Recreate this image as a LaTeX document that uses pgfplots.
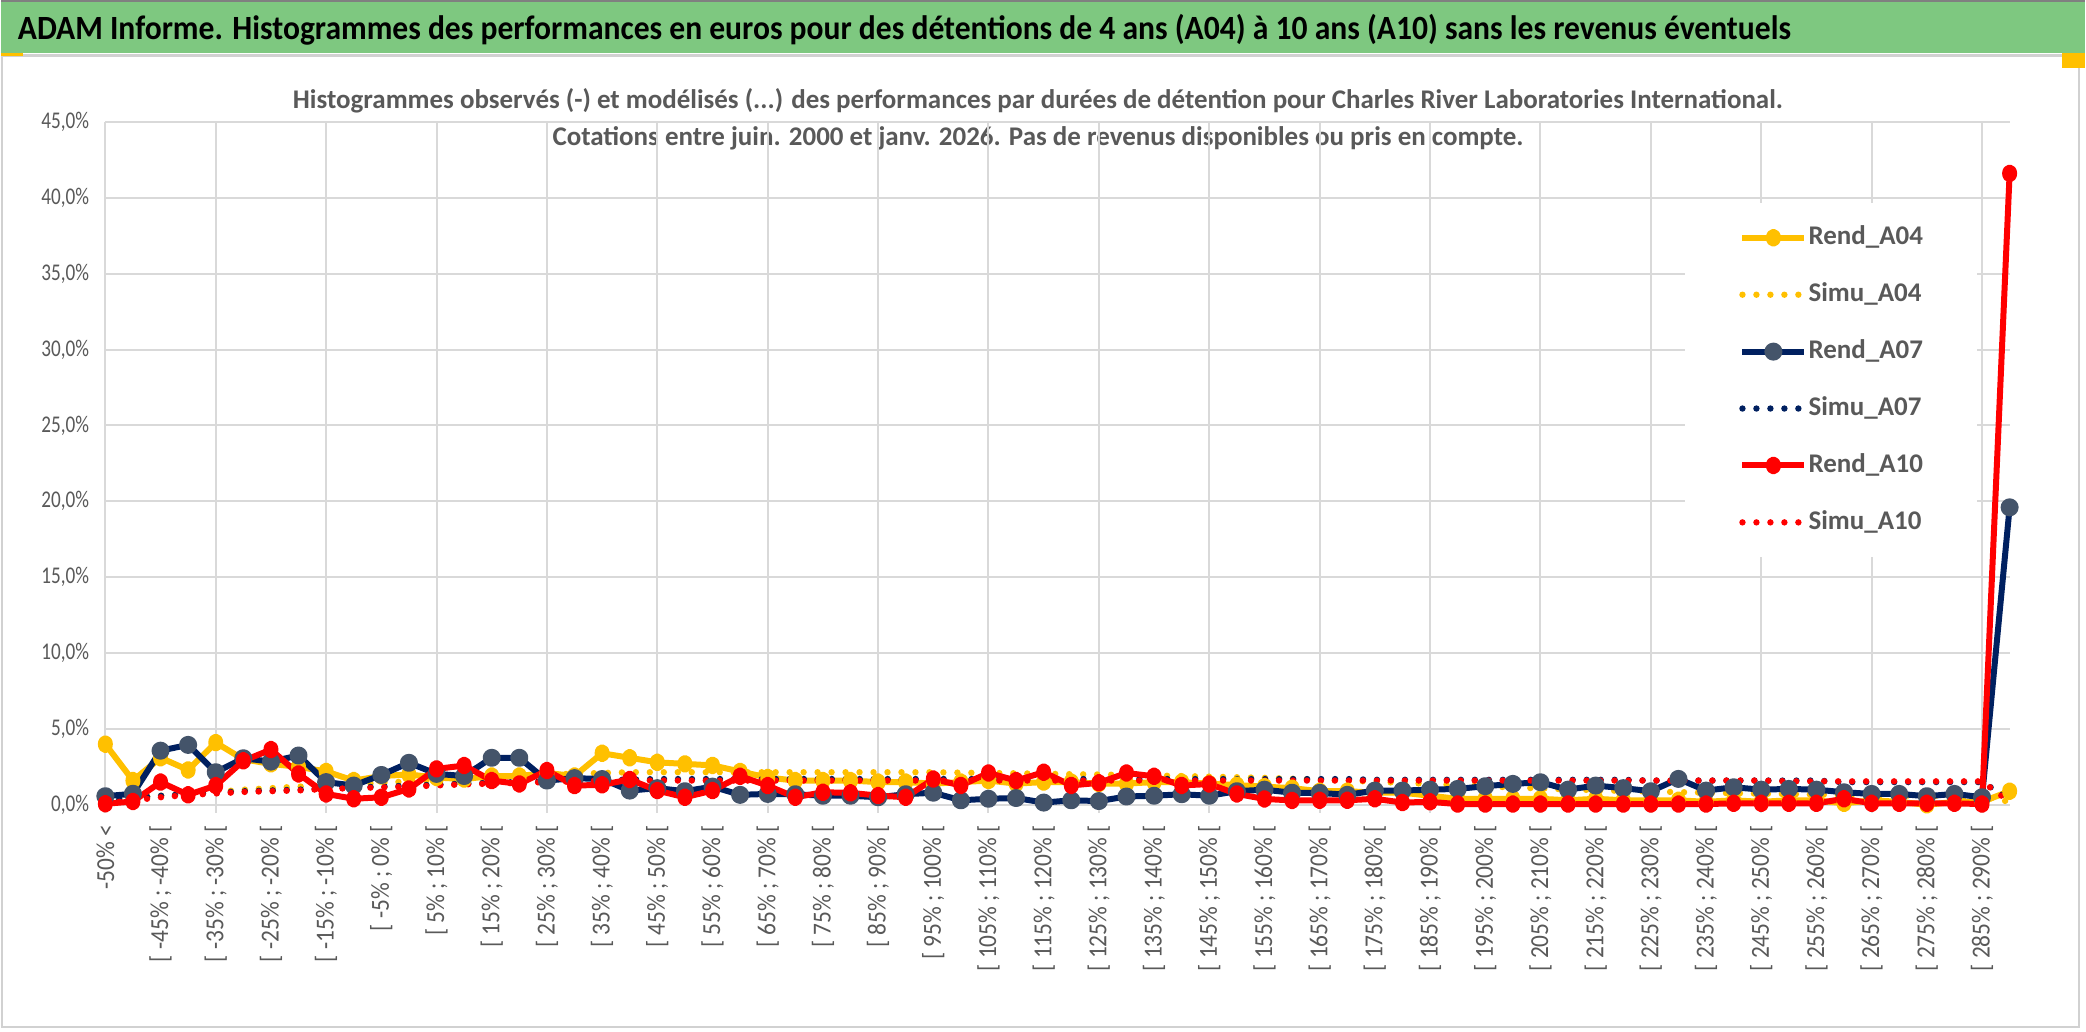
\documentclass[border=0pt]{standalone}
\usepackage{fontspec}
\setmainfont{Carlito}
\newfontfamily\sqf{Carlito}[FakeStretch=0.8]
\newfontfamily\tif{Carlito}[FakeStretch=0.93]
\newfontfamily\xlf{Carlito}[FakeStretch=0.9]
\usepackage{pgfplots}
\pgfplotsset{compat=1.18}
\usepackage{pgfplotstable}

\definecolor{gbar}{RGB}{126,200,128}
\definecolor{gold}{RGB}{255,192,0}
\definecolor{navy}{RGB}{0,32,96}
\definecolor{slate}{RGB}{68,84,106}
\definecolor{txt}{RGB}{89,89,89}
\definecolor{grd}{RGB}{217,217,217}

\pgfplotstableread{
i r04 s04 r07 s07 r10 s10
0 4.0 0.4 0.57 0.3 0.07 0.1
1 1.6 0.5 0.73 0.45 0.22 0.3
2 3.1 0.6 3.57 0.6 1.5 0.5
3 2.3 0.7 3.95 0.7 0.66 0.65
4 4.1 0.85 2.15 0.8 1.27 0.75
5 3.0 1.0 3.07 0.9 2.9 0.85
6 2.7 1.1 2.85 0.95 3.64 0.9
7 2.5 1.2 3.25 1.0 2.04 0.95
8 2.2 1.3 1.5 1.1 0.72 1.05
9 1.6 1.35 1.27 1.15 0.4 1.1
10 1.9 1.45 1.97 1.2 0.5 1.15
11 2.0 1.55 2.77 1.27 1.05 1.2
12 1.8 1.65 2.04 1.33 2.37 1.28
13 1.7 1.7 1.9 1.4 2.59 1.35
14 1.9 1.8 3.1 1.45 1.6 1.4
15 1.9 1.9 3.1 1.5 1.38 1.45
16 2.1 2.0 1.6 1.55 2.26 1.5
17 1.9 2.05 1.76 1.6 1.27 1.55
18 3.4 2.1 1.7 1.63 1.32 1.6
19 3.1 2.15 0.94 1.66 1.67 1.6
20 2.8 2.15 1.1 1.7 0.94 1.6
21 2.7 2.15 0.9 1.7 0.5 1.6
22 2.6 2.15 1.2 1.7 0.94 1.6
23 2.2 2.15 0.66 1.7 1.88 1.6
24 1.8 2.15 0.72 1.7 1.27 1.6
25 1.6 2.15 0.7 1.7 0.5 1.6
26 1.6 2.15 0.6 1.7 0.83 1.6
27 1.6 2.15 0.6 1.7 0.79 1.6
28 1.5 2.15 0.5 1.7 0.61 1.6
29 1.5 2.15 0.7 1.7 0.5 1.6
30 1.4 2.15 0.8 1.7 1.7 1.6
31 1.5 2.12 0.3 1.7 1.28 1.6
32 1.6 2.1 0.4 1.7 2.1 1.6
33 1.4 2.08 0.45 1.7 1.6 1.6
34 1.5 2.05 0.15 1.7 2.15 1.6
35 1.5 2.02 0.3 1.7 1.28 1.6
36 1.4 2.0 0.25 1.7 1.45 1.6
37 1.4 1.97 0.55 1.7 2.1 1.6
38 1.5 1.93 0.6 1.7 1.88 1.6
39 1.5 1.9 0.7 1.7 1.28 1.6
40 1.4 1.86 0.6 1.7 1.37 1.6
41 1.3 1.82 0.9 1.7 0.72 1.6
42 1.2 1.78 1.0 1.7 0.39 1.6
43 1.1 1.72 0.8 1.7 0.29 1.6
44 0.9 1.66 0.79 1.7 0.3 1.6
45 0.9 1.6 0.66 1.7 0.3 1.6
46 0.8 1.52 0.94 1.65 0.4 1.6
47 0.8 1.45 0.94 1.65 0.15 1.6
48 0.6 1.38 1.0 1.65 0.2 1.6
49 0.4 1.3 1.05 1.65 0.05 1.6
50 0.4 1.22 1.23 1.65 0.05 1.6
51 0.4 1.15 1.38 1.65 0.05 1.6
52 0.4 1.08 1.49 1.65 0.05 1.6
53 0.3 1.02 1.0 1.65 0.05 1.6
54 0.4 0.97 1.27 1.65 0.05 1.6
55 0.3 0.92 1.1 1.65 0.05 1.6
56 0.3 0.88 0.9 1.6 0.05 1.6
57 0.3 0.84 1.71 1.6 0.05 1.6
58 0.2 0.8 0.94 1.6 0.05 1.6
59 0.3 0.77 1.16 1.6 0.1 1.6
60 0.2 0.74 1.0 1.6 0.1 1.6
61 0.3 0.71 1.05 1.6 0.1 1.55
62 0.3 0.68 1.0 1.6 0.1 1.55
63 0.1 0.66 0.83 1.5 0.4 1.55
64 0.3 0.64 0.72 1.5 0.1 1.55
65 0.2 0.62 0.72 1.5 0.1 1.55
66 0.0 0.6 0.57 1.5 0.1 1.55
67 0.2 0.58 0.72 1.5 0.1 1.55
68 0.2 0.56 0.5 1.5 0.05 1.55
69 0.9 0.2 19.6 0.4 41.6 0.2
}\data

\pgfplotsset{
  rend/.style={line width=3pt, line join=round, mark=*, mark size=3pt,
    mark options={xscale=0.75, solid},
    legend image code/.code={\draw[mark repeat=2,mark phase=2,##1] plot coordinates {(0pt,0pt) (15.5pt,0pt) (31pt,0pt)};}},
  simu/.style={line width=3.2pt, line cap=round, dash pattern=on 0pt off 7pt,
    legend image code/.code={\draw[##1] (0pt,0pt) -- (31pt,0pt);}},
}

\begin{document}
\begin{tikzpicture}[x=1pt,y=1pt]
\fill[white] (0,0) rectangle (1043,-516.5);
\fill[gbar] (0,-1) rectangle (1043,-26.5);
\draw[black!50,line width=1pt] (0,-0.5) -- (1043,-0.5);
\draw[black!18,line width=1.5pt] (0,-28) -- (1043,-28);
\draw[black!18,line width=1pt] (0.5,-28) -- (0.5,-514) -- (1040,-514) -- (1040,-28);
\fill[gold] (0,-26.5) rectangle (11,-28.2);
\fill[gold] (1031.5,-26.5) rectangle (1043,-34);

\node[anchor=west, inner sep=0pt, font=\tif\bfseries\fontsize{17}{19}\selectfont] at (8,-15)
  {ADAM Informe. Histogrammes des performances en euros pour des détentions de 4 ans (A04) à 10 ans (A10) sans les revenus éventuels};

\node[align=center, inner sep=0pt, text=txt, font=\bfseries\fontsize{13.5}{18.5}\selectfont] at (519,-59.5)
  {Histogrammes observés (-) et modélisés (...) des performances par durées de détention pour Charles River Laboratories International.\\
   Cotations entre juin. 2000 et janv. 2026. Pas de revenus disponibles ou pris en compte.};

\begin{axis}[
  at={(52pt,-403pt)}, anchor=south west,
  scale only axis, width=953.5pt, height=342pt,
  xmin=0, xmax=69, ymin=0, ymax=45,
  clip=false,
  axis line style={draw=none},
  ytick={0,5,...,45},
  yticklabels={{0,0\%},{5,0\%},{10,0\%},{15,0\%},{20,0\%},{25,0\%},{30,0\%},{35,0\%},{40,0\%},{45,0\%}},
  ymajorgrids,
  major grid style={grd, line width=1pt},
  major tick length=0pt,
  tick style={grd, line width=1pt},
  yticklabel style={anchor=east, inner sep=0pt, text=txt, font=\sqf\fontsize{12}{14}\selectfont},
  yticklabel shift=8pt,
  xtick={0,2,...,68},
  xticklabels={{-50\% <},
   {[ -45\% ; -40\% [},{[ -35\% ; -30\% [},{[ -25\% ; -20\% [},{[ -15\% ; -10\% [},{[ -5\% ; 0\% [},
   {[ 5\% ; 10\% [},{[ 15\% ; 20\% [},{[ 25\% ; 30\% [},{[ 35\% ; 40\% [},{[ 45\% ; 50\% [},
   {[ 55\% ; 60\% [},{[ 65\% ; 70\% [},{[ 75\% ; 80\% [},{[ 85\% ; 90\% [},{[ 95\% ; 100\% [},
   {[ 105\% ; 110\% [},{[ 115\% ; 120\% [},{[ 125\% ; 130\% [},{[ 135\% ; 140\% [},{[ 145\% ; 150\% [},
   {[ 155\% ; 160\% [},{[ 165\% ; 170\% [},{[ 175\% ; 180\% [},{[ 185\% ; 190\% [},{[ 195\% ; 200\% [},
   {[ 205\% ; 210\% [},{[ 215\% ; 220\% [},{[ 225\% ; 230\% [},{[ 235\% ; 240\% [},{[ 245\% ; 250\% [},
   {[ 255\% ; 260\% [},{[ 265\% ; 270\% [},{[ 275\% ; 280\% [},{[ 285\% ; 290\% [}},
  xticklabel style={rotate=90, anchor=east, inner sep=0pt, text=txt, font=\xlf\fontsize{13}{15}\selectfont},
  xticklabel shift=10pt,
  extra x ticks={0,4,...,68},
  extra x tick labels={},
  extra x tick style={grid=major, major tick length=4pt, tick align=outside, tick pos=bottom},
  legend style={at={(0.8295,0.882)}, anchor=north west, draw=none, fill=white,
    inner xsep=27pt, inner ysep=11pt, row sep=15.5pt, column sep=0.5pt,
    font=\bfseries\fontsize{13.5}{15}\selectfont, text=txt,
    nodes={inner sep=0pt, text height=10pt, text depth=3pt}},
  legend cell align=left,
]
\addplot[rend, color=gold] table[x=i, y=r04] {\data};
\addlegendentry{Rend\_A04}
\addplot[simu, color=gold] table[x=i, y=s04] {\data};
\addlegendentry{Simu\_A04}
\addplot[rend, color=navy, mark options={fill=slate, draw=slate}] table[x=i, y=r07] {\data};
\addlegendentry{Rend\_A07}
\addplot[simu, color=navy] table[x=i, y=s07] {\data};
\addlegendentry{Simu\_A07}
\addplot[rend, color=red] table[x=i, y=r10] {\data};
\addlegendentry{Rend\_A10}
\addplot[simu, color=red] table[x=i, y=s10] {\data};
\addlegendentry{Simu\_A10}
\end{axis}
\end{tikzpicture}
\end{document}
